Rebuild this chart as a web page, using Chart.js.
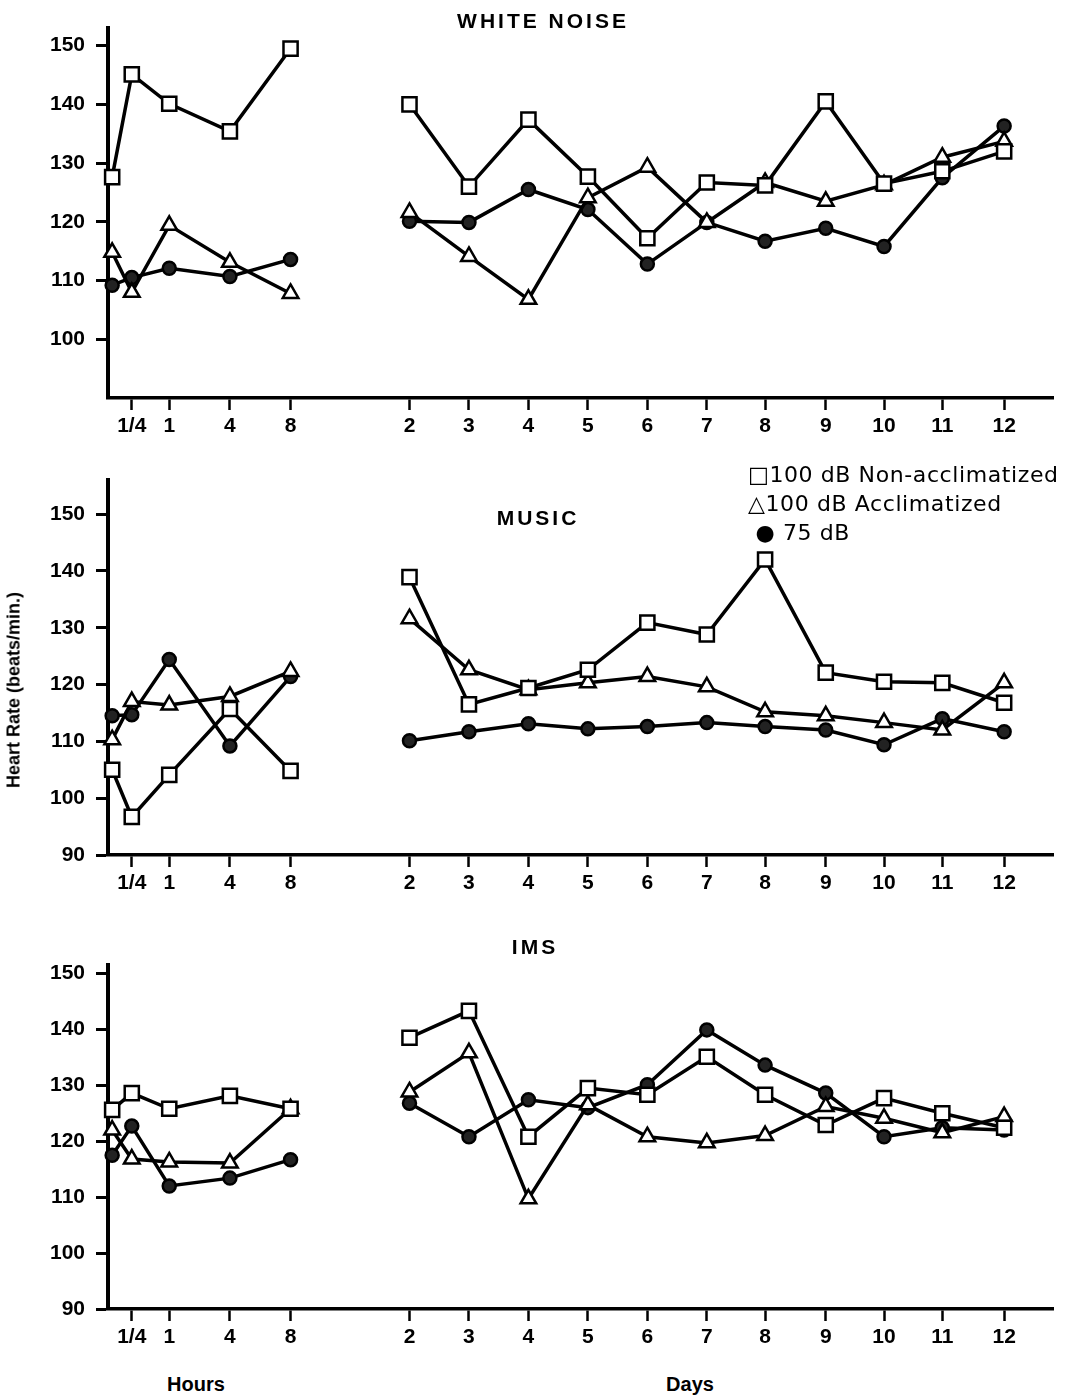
<!DOCTYPE html>
<html>
<head>
<meta charset="utf-8">
<script src="https://cdn.jsdelivr.net/npm/chart.js@4.4.0/dist/chart.umd.min.js"></script>
<style>
  body { margin: 0; background: #fff; }
  #page { position: relative; width: 1066px; height: 1397px; overflow: hidden; font-family: "Liberation Sans", Arial, sans-serif; }
  canvas { position: absolute; left: 0; }
  .ttl { position: absolute; font-weight: bold; font-size: 21px; letter-spacing: 3px; color: #000; transform: translateX(-50%); white-space: nowrap; }
  .leg { position: absolute; left: 748px; font-family: "DejaVu Sans", sans-serif; font-size: 22px; letter-spacing: 0.6px; color: #000; white-space: nowrap; line-height: 29px; }
  .xt { position: absolute; font-weight: bold; font-size: 20px; color: #000; transform: translateX(-50%); }
  .yt { position: absolute; left: 14px; top: 690px; font-weight: bold; font-size: 18px; white-space: nowrap; transform: translate(-50%, -50%) rotate(-90deg); }
</style>
</head>
<body>
<div id="page">
  <canvas id="c1" width="1066" height="440" style="top:0px"></canvas>
  <canvas id="c2" width="1066" height="460" style="top:440px"></canvas>
  <canvas id="c3" width="1066" height="470" style="top:900px"></canvas>

  <div class="ttl" style="left:543px;top:9px">WHITE NOISE</div>
  <div class="ttl" style="left:538px;top:506px">MUSIC</div>
  <div class="ttl" style="left:535px;top:935px">IMS</div>

  <div class="leg" style="top:460px">□100 dB Non-acclimatized<br>△100 dB Acclimatized<br>&nbsp;●&nbsp;75 dB</div>

  <div class="yt">Heart Rate (beats/min.)</div>
  <div class="xt" style="left:196px;top:1373px">Hours</div>
  <div class="xt" style="left:690px;top:1373px">Days</div>
</div>

<script>
// x categories: first hour slot is the pre-exposure reading on the axis
var hourTicks = ["", "1/4", "1", "4", "8"];
var dayTicks = ["2", "3", "4", "5", "6", "7", "8", "9", "10", "11", "12"];
var hourPos = [0.07, 0.4, 1.03, 2.05, 3.07];
var dayPos = [5.07, 6.07, 7.07, 8.07, 9.07, 10.07, 11.05, 12.07, 13.05, 14.03, 15.07];
var gapPos = 4.1;

// WHITE NOISE
var wnNonAccHours = [127.6, 145.1, 140.1, 135.4, 149.5];
var wnNonAccDays = [140.0, 126.0, 137.4, 127.7, 117.2, 126.7, 126.2, 140.5, 126.5, 128.6, 132.0];
var wnAccHours = [114.8, 108.0, 119.4, 113.1, 107.8];
var wnAccDays = [121.6, 114.1, 106.8, 124.1, 129.3, 119.9, 126.7, 123.5, 126.3, 131.0, 133.7];
var wn75Hours = [109.2, 110.5, 112.1, 110.7, 113.6];
var wn75Days = [120.1, 119.9, 125.5, 122.1, 112.8, 119.9, 116.7, 118.9, 115.8, 127.5, 136.3];

// MUSIC
var muNonAccHours = [105.0, 96.7, 104.1, 115.7, 104.8];
var muNonAccDays = [138.9, 116.5, 119.4, 122.6, 130.9, 128.8, 142.0, 122.1, 120.5, 120.3, 116.8];
var muAccHours = [110.3, 117.0, 116.4, 117.9, 122.3];
var muAccDays = [131.6, 122.6, 119.1, 120.3, 121.4, 119.6, 115.2, 114.5, 113.3, 112.0, 120.3];
var mu75Hours = [114.5, 114.7, 124.4, 109.2, 121.4];
var mu75Days = [110.1, 111.7, 113.1, 112.2, 112.6, 113.3, 112.6, 112.0, 109.4, 114.0, 111.7];

// IMS
var imsNonAccHours = [125.6, 128.6, 125.8, 128.1, 125.8];
var imsNonAccDays = [138.5, 143.3, 120.8, 129.5, 128.3, 135.1, 128.3, 122.9, 127.7, 125.0, 122.4];
var imsAccHours = [122.0, 116.8, 116.3, 116.1, 125.8];
var imsAccDays = [128.8, 135.8, 109.7, 126.5, 120.8, 119.7, 121.0, 126.2, 124.1, 121.5, 124.4];
var ims75Hours = [117.5, 122.7, 112.0, 113.4, 116.7];
var ims75Days = [126.8, 120.8, 127.4, 126.0, 130.1, 139.9, 133.6, 128.6, 120.8, 122.4, 122.0];

var yTicks1 = [100, 110, 120, 130, 140, 150];
var yTicks23 = [90, 100, 110, 120, 130, 140, 150];

var markers = [
    { label: "100 dB Non-acclimatized", pointStyle: "rect", radius: 10, fill: "#fff" },
    { label: "100 dB Acclimatized", pointStyle: "triangle", radius: 9, fill: "#fff" },
    { label: "75 dB", pointStyle: "circle", radius: 6.5, fill: "#222" }
];

function toPoints(hours, days) {
    var pts = [];
    for (var i = 0; i < hours.length; i++) pts.push({ x: hourPos[i], y: hours[i] });
    pts.push({ x: gapPos, y: null }); // break between hours and days
    for (var j = 0; j < days.length; j++) pts.push({ x: dayPos[j], y: days[j] });
    return pts;
}

var tickPos = hourPos.slice(1).concat(dayPos);
var tickText = hourTicks.slice(1).concat(dayTicks);

function makeChart(id, series, yMax, yTicks, padTop, xAxisH) {
    var datasets = series.map(function (s, k) {
        var m = markers[k];
        return {
            label: m.label,
            data: toPoints(s[0], s[1]),
            borderColor: "#000",
            borderWidth: 3.5,
            pointStyle: m.pointStyle,
            pointRadius: m.radius,
            pointBackgroundColor: m.fill,
            pointBorderColor: "#000",
            pointBorderWidth: 2.5,
            spanGaps: false,
            tension: 0,
            clip: false
        };
    });
    return new Chart(document.getElementById(id).getContext("2d"), {
        type: "line",
        data: { datasets: datasets },
        options: {
            responsive: false,
            animation: false,
            layout: { padding: { top: padTop, right: 6, left: 0, bottom: 0 } },
            plugins: { legend: { display: false }, tooltip: { enabled: false } },
            scales: {
                x: {
                    type: "linear",
                    min: 0,
                    max: 15.9,
                    afterBuildTicks: function (axis) {
                        axis.ticks = tickPos.map(function (v) { return { value: v }; });
                    },
                    afterFit: function (scale) { scale.height = xAxisH; },
                    grid: { drawOnChartArea: false, tickLength: 12, tickWidth: 2.5, tickColor: "#000" },
                    border: { display: true, width: 3.5, color: "#000" },
                    ticks: {
                        autoSkip: false,
                        maxRotation: 0,
                        padding: 4,
                        color: "#000",
                        font: { family: "Liberation Sans", weight: "bold", size: 21 },
                        callback: function (v) {
                            var i = tickPos.indexOf(v);
                            return i >= 0 ? tickText[i] : "";
                        }
                    }
                },
                y: {
                    min: 90,
                    max: yMax,
                    afterBuildTicks: function (axis) {
                        axis.ticks = yTicks.map(function (v) { return { value: v }; });
                    },
                    afterFit: function (scale) { scale.width = 108; },
                    grid: { drawOnChartArea: false, tickLength: 12, tickWidth: 3, tickColor: "#000" },
                    border: { display: true, width: 4, color: "#000" },
                    ticks: {
                        padding: 11,
                        color: "#000",
                        font: { family: "Liberation Sans", weight: "bold", size: 21 }
                    }
                }
            }
        }
    });
}

window.onload = function () {
    makeChart("c1", [[wnNonAccHours, wnNonAccDays], [wnAccHours, wnAccDays], [wn75Hours, wn75Days]],
        153, yTicks1, 28, 42);
    makeChart("c2", [[muNonAccHours, muNonAccDays], [muAccHours, muAccDays], [mu75Hours, mu75Days]],
        156, yTicks23, 40, 45);
    makeChart("c3", [[imsNonAccHours, imsNonAccDays], [imsAccHours, imsAccDays], [ims75Hours, ims75Days]],
        151.5, yTicks23, 65, 61);
};
</script>
</body>
</html>
